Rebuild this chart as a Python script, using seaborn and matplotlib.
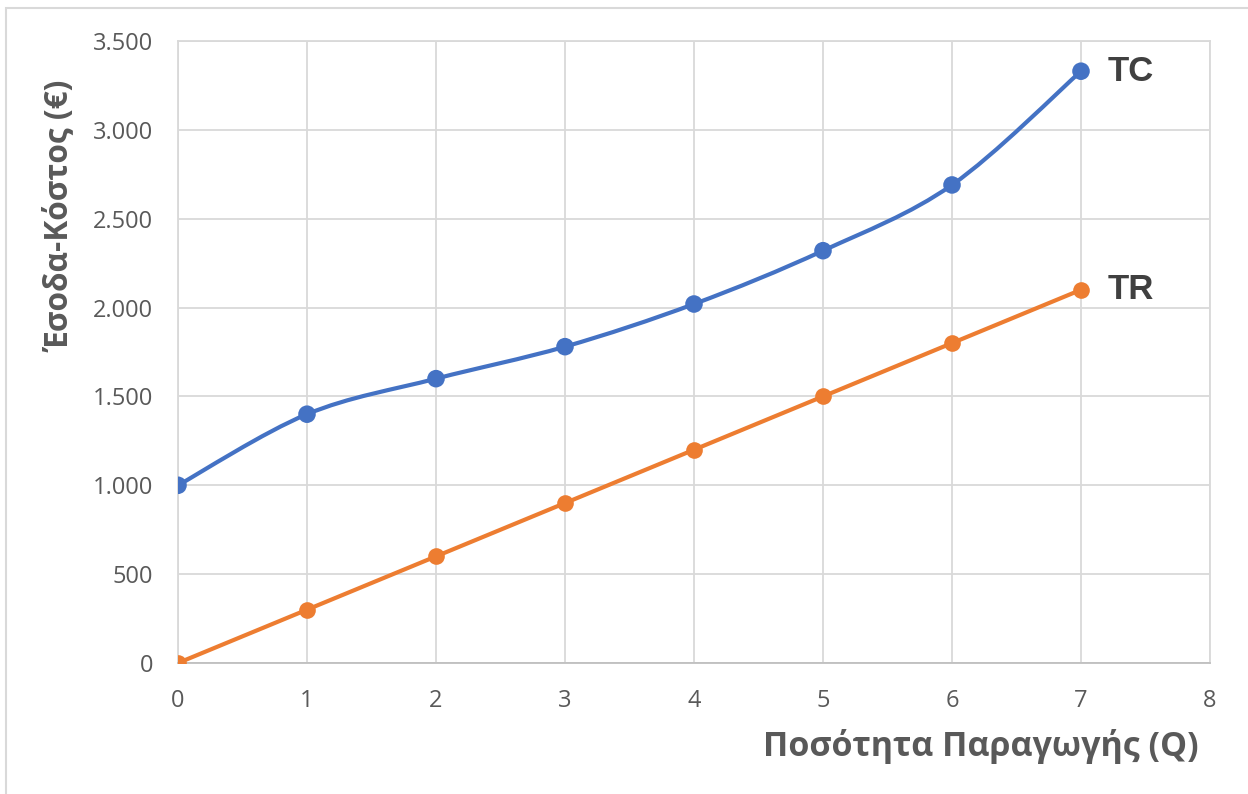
import numpy as np
import pandas as pd
import matplotlib
matplotlib.use("Agg")
import matplotlib.pyplot as plt
from matplotlib.path import Path
from matplotlib.patches import PathPatch, Rectangle
import seaborn as sns

# ---- data ----
quantity = [0, 1, 2, 3, 4, 5, 6, 7]
total_cost = [1000, 1400, 1600, 1780, 2020, 2320, 2690, 3330]
total_revenue = [0, 300, 600, 900, 1200, 1500, 1800, 2100]
y_ticks = [0, 500, 1000, 1500, 2000, 2500, 3000, 3500]
y_tick_labels = ["0", "500", "1.000", "1.500", "2.000", "2.500", "3.000", "3.500"]
x_ticks = [0, 1, 2, 3, 4, 5, 6, 7, 8]
series_names = ["TC", "TR"]
x_title = "Ποσότητα Παραγωγής (Q)"
y_title = "Έσοδα-Κόστος (€)"

BLUE = "#4472C4"
ORANGE = "#ED7D31"
GRID = "#D9D9D9"
TXT = "#595959"
DARK = "#404040"

sns.set_theme(style="white")
plt.rcParams["font.family"] = ["Open Sans", "DejaVu Sans"]

fig = plt.figure(figsize=(12.48, 7.94), dpi=100)
ax = fig.add_axes([178 / 1248, 1 - 663 / 794, (1210 - 178) / 1248, (663 - 41) / 794])

df = pd.DataFrame({"Q": quantity, "TC": total_cost, "TR": total_revenue})

# smooth TC line (Catmull-Rom style Bezier through the data points)
pts = np.column_stack([df["Q"].to_numpy(float), df["TC"].to_numpy(float)])
verts = [tuple(pts[0])]
codes = [Path.MOVETO]
n = len(pts)
for i in range(n - 1):
    p0 = pts[i - 1] if i > 0 else pts[i]
    p1 = pts[i]
    p2 = pts[i + 1]
    p3 = pts[i + 2] if i + 2 < n else pts[i + 1]
    c1 = p1 + (p2 - p0) / 6.0
    c2 = p2 - (p3 - p1) / 6.0
    verts += [tuple(c1), tuple(c2), tuple(p2)]
    codes += [Path.CURVE4] * 3
ax.add_patch(PathPatch(Path(verts, codes), facecolor="none", edgecolor=BLUE,
                       lw=3, zorder=3, capstyle="round", joinstyle="round"))

sns.scatterplot(data=df, x="Q", y="TC", ax=ax, color=BLUE, s=160,
                edgecolor="none", zorder=4, legend=False)
sns.lineplot(data=df, x="Q", y="TR", ax=ax, color=ORANGE, lw=3, marker="o",
             markersize=12, markeredgewidth=0, zorder=4, legend=False)

ax.set_xlim(0, 8)
ax.set_ylim(0, 3500)
ax.set_xticks(x_ticks)
ax.set_xticklabels([str(v) for v in x_ticks])
ax.set_yticks(y_ticks)
ax.set_yticklabels(y_tick_labels)
ax.grid(True, color=GRID, lw=1.3)
ax.set_axisbelow(True)
for s in ax.spines.values():
    s.set_visible(True)
    s.set_color(GRID)
    s.set_linewidth(1.3)
ax.spines["bottom"].set_color("#BFBFBF")
ax.tick_params(axis="both", length=0, labelsize=17, labelcolor=TXT)
ax.tick_params(axis="y", pad=18)
ax.tick_params(axis="x", pad=19)
ax.set_xlabel("")
ax.set_ylabel("")

# series labels at line ends
for name, val in zip(series_names, [total_cost[-1], total_revenue[-1]]):
    ax.annotate(name, xy=(quantity[-1], val), xytext=(27, 0),
                textcoords="offset pixels", ha="left", va="center", fontsize=25,
                fontweight="bold", color=DARK, family=["Liberation Sans", "DejaVu Sans"])

# axis titles
fig.text(1199 / 1248, 1 - 747 / 794, x_title, ha="right", va="center",
         fontsize=24.5, fontweight="bold", color=TXT)
fig.text(60 / 1248, 1 - 216 / 794, y_title, ha="center", va="center",
         rotation=90, fontsize=22.8, fontweight="bold", color=TXT)

# chart-area border
fig.add_artist(Rectangle((6 / 1248, -0.1), 1.2, 1 - 8 / 794 + 0.1,
                         transform=fig.transFigure, fill=False,
                         edgecolor="#D9D9D9", lw=1.5))

fig.savefig("out.png", dpi=100, facecolor="white")
